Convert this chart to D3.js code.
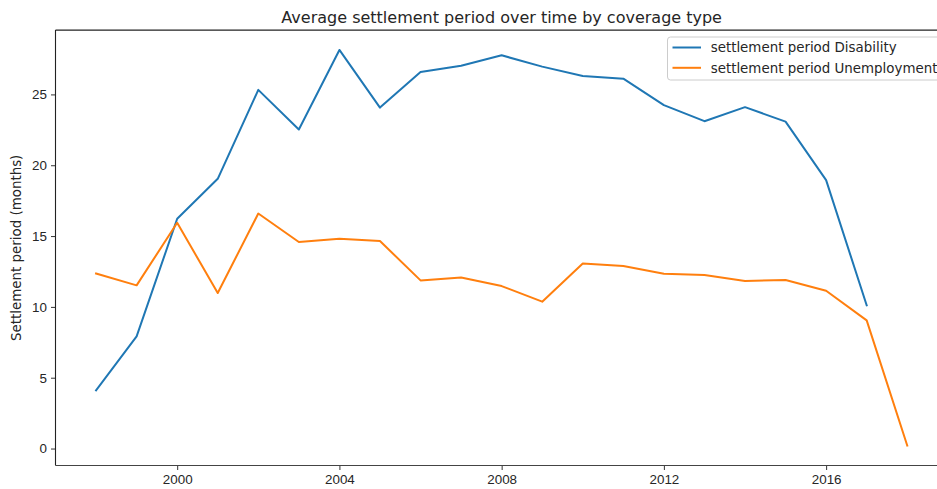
<!DOCTYPE html>
<html>
<head>
<meta charset="utf-8">
<script src="https://cdn.jsdelivr.net/npm/d3@7/dist/d3.min.js"></script>
<style>
  html, body { margin: 0; padding: 0; background: #fff; }
  svg { display: block; font-family: "DejaVu Sans", sans-serif; }
</style>
</head>
<body>
<svg id="chart" width="937" height="489"></svg>
<script>
// Yearly average settlement period (months) per coverage type
const years = [1998, 1999, 2000, 2001, 2002, 2003, 2004, 2005, 2006, 2007, 2008,
               2009, 2010, 2011, 2012, 2013, 2014, 2015, 2016, 2017, 2018];
const disability = [4.11, 7.92, 16.22, 19.04, 25.32, 22.52, 28.14, 24.07, 26.59, 27.02, 27.76,
                    26.96, 26.30, 26.11, 24.24, 23.11, 24.10, 23.08, 18.95, 10.11, null];
const unemployment = [12.36, 11.52, 15.94, 10.98, 16.59, 14.58, 14.81, 14.65, 11.87, 12.08, 11.47,
                      10.37, 13.07, 12.88, 12.34, 12.25, 11.83, 11.90, 11.14, 9.05, 0.21];
const seriesNames = ["settlement period Disability", "settlement period Unemployment"];
const seriesColors = ["#1f77b4", "#ff7f0e"];
const xTicks = [2000, 2004, 2008, 2012, 2016];
const yTicks = [0, 5, 10, 15, 20, 25];

const svg = d3.select("#chart");
const plot = { left: 55.5, right: 947.8, top: 30.1, bottom: 465.5 };

const x = d3.scaleLinear().domain([1997, 2019]).range([plot.left, plot.right]);
const y = d3.scaleLinear().domain([-1.197, 29.54]).range([plot.bottom, plot.top]);

const textColor = "#262626";
const labelSize = "13.4px";

// Axes
const xAxis = d3.axisBottom(x).tickValues(xTicks).tickFormat(d3.format("d"))
  .tickSize(4.5).tickPadding(4);
const yAxis = d3.axisLeft(y).tickValues(yTicks).tickFormat(d3.format("d"))
  .tickSize(4.5).tickPadding(4);

const gx = svg.append("g").attr("transform", `translate(0,${plot.bottom})`).call(xAxis);
const gy = svg.append("g").attr("transform", `translate(${plot.left},0)`).call(yAxis);
[gx, gy].forEach(g => {
  g.select(".domain").remove();
  g.selectAll(".tick line").attr("stroke", "#333").attr("stroke-width", 1);
  g.selectAll(".tick text").attr("fill", textColor).style("font-size", labelSize);
});

// Spines: left, top and bottom
svg.append("line").attr("x1", plot.left).attr("x2", plot.left)
  .attr("y1", plot.top).attr("y2", plot.bottom).attr("stroke", "#222").attr("stroke-width", 1.1);
svg.append("line").attr("x1", plot.left).attr("x2", plot.right)
  .attr("y1", plot.top).attr("y2", plot.top).attr("stroke", "#222").attr("stroke-width", 1.1);
svg.append("line").attr("x1", plot.left).attr("x2", plot.right)
  .attr("y1", plot.bottom).attr("y2", plot.bottom).attr("stroke", "#444").attr("stroke-width", 1.1);

// Lines
const line = d3.line()
  .defined(d => d.v !== null)
  .x(d => x(d.year))
  .y(d => y(d.v));

[disability, unemployment].forEach((vals, i) => {
  const pts = years.map((yr, j) => ({ year: yr, v: vals[j] }));
  svg.append("path")
    .datum(pts)
    .attr("fill", "none")
    .attr("stroke", seriesColors[i])
    .attr("stroke-width", 2)
    .attr("stroke-linejoin", "round")
    .attr("stroke-linecap", "square")
    .attr("d", line);
});

// Title
svg.append("text")
  .attr("x", (plot.left + plot.right) / 2)
  .attr("y", 22.5)
  .attr("text-anchor", "middle")
  .attr("fill", textColor)
  .style("font-size", "16px")
  .text("Average settlement period over time by coverage type");

// Y-axis label
svg.append("text")
  .attr("transform", `translate(21,${(plot.top + plot.bottom) / 2}) rotate(-90)`)
  .attr("text-anchor", "middle")
  .attr("fill", textColor)
  .style("font-size", labelSize)
  .text("Settlement period (months)");

// Legend
const legend = svg.append("g").attr("transform", "translate(667.5,37)");
legend.append("rect")
  .attr("x", 0).attr("y", 0)
  .attr("width", 300).attr("height", 43)
  .attr("rx", 3).attr("ry", 3)
  .attr("fill", "#fff").attr("fill-opacity", 0.8)
  .attr("stroke", "#cccccc").attr("stroke-width", 1);
seriesNames.forEach((name, i) => {
  const cy = 10.5 + i * 20.3;
  legend.append("line")
    .attr("x1", 5).attr("x2", 33.5)
    .attr("y1", cy).attr("y2", cy)
    .attr("stroke", seriesColors[i]).attr("stroke-width", 2);
  legend.append("text")
    .attr("x", 43.2).attr("y", cy)
    .attr("dy", "0.36em")
    .attr("fill", textColor)
    .style("font-size", labelSize)
    .text(name);
});
</script>
</body>
</html>
